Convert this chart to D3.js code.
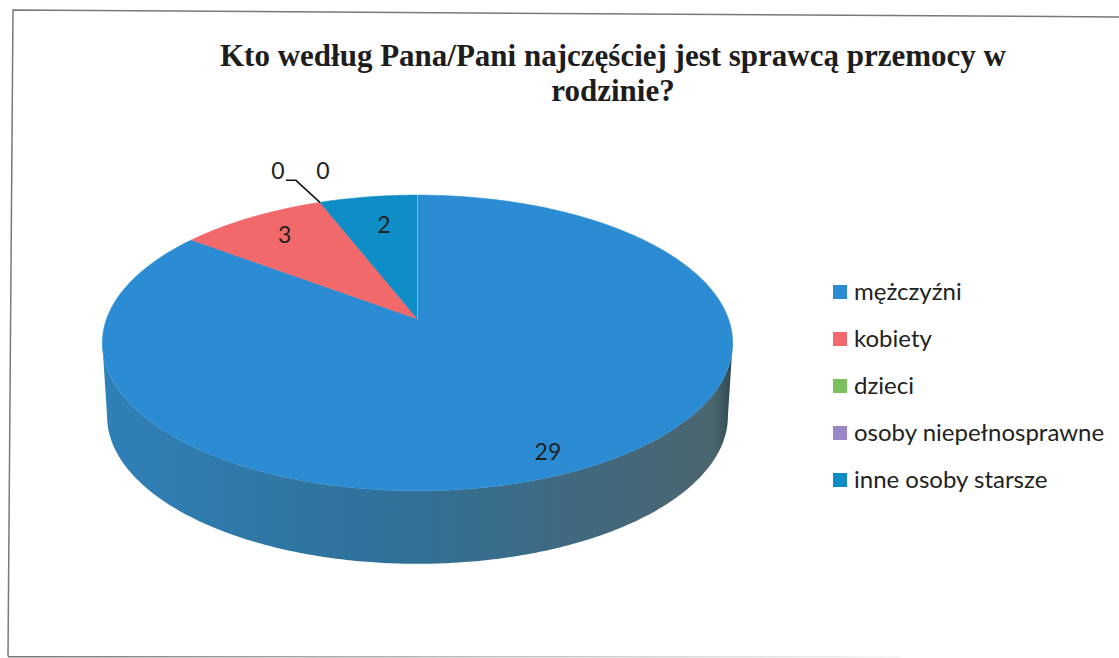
<!DOCTYPE html>
<html>
<head>
<meta charset="utf-8">
<script src="https://cdn.jsdelivr.net/npm/d3@7"></script>
<style>
  html, body { margin: 0; padding: 0; background: #fff; }
  svg { display: block; }
</style>
</head>
<body>
<div id="chart"></div>
<script>
// Donnees
const categories = ["mężczyźni", "kobiety", "dzieci", "osoby niepełnosprawne", "inne osoby starsze"];
const values = [29, 3, 0, 0, 2];
const colors = ["#2b8cd3", "#f2696b", "#7cc05c", "#9b86c8", "#0f8dc6"];
const titleLines = ["Kto według Pana/Pani najczęściej jest sprawcą przemocy w", "rodzinie?"];

const width = 1119, height = 658;

const svg = d3.select("#chart").append("svg")
  .attr("width", width)
  .attr("height", height);

// Cadre (scan legerement de travers, le bas s'efface vers la droite)
svg.append("path")
  .attr("d", "M8,656.5L13,10L1119,17")
  .attr("fill", "none")
  .attr("stroke", "#77797b")
  .attr("stroke-width", 1.5);
const frameGrad = svg.append("defs").append("linearGradient")
  .attr("id", "frameBottom")
  .attr("gradientUnits", "userSpaceOnUse")
  .attr("x1", 8).attr("x2", 900).attr("y1", 0).attr("y2", 0);
frameGrad.append("stop").attr("offset", "0").attr("stop-color", "#77797b");
frameGrad.append("stop").attr("offset", "0.35").attr("stop-color", "#a5a7a9");
frameGrad.append("stop").attr("offset", "1").attr("stop-color", "#f4f4f4");
svg.append("rect")
  .attr("x", 8).attr("y", 656)
  .attr("width", 892).attr("height", 1.5)
  .attr("fill", "url(#frameBottom)");

// Titre
svg.append("g").selectAll("text")
  .data(titleLines)
  .enter()
  .append("text")
  .attr("x", 613)
  .attr("y", (d, i) => 66 + i * 35)
  .attr("text-anchor", "middle")
  .style("font-family", "'Liberation Serif', serif")
  .style("font-weight", "bold")
  .style("font-size", "31px")
  .style("fill", "#1d1d1d")
  .text(d => d);

// Projection perspective du disque : le centre du camembert n'est pas au centre de l'ellipse
const cx = 417.5, apexY = 319, depth = 73;
const p = 0.162, A = 311, H = 144;
const project = (a, r = 1) => {
  const u = r * Math.sin(a), v = r * Math.cos(a);
  const w = 1 + p * v;
  return [cx + A * u / w, apexY - H * v / w];
};
const arcPoints = (a0, a1) => {
  const n = Math.max(2, Math.ceil(Math.abs(a1 - a0) / 0.01));
  return d3.range(n + 1).map(i => project(a0 + (a1 - a0) * i / n));
};

const pie = d3.pie().sort(null).value(d => d);
const slices = pie(values);
const line = d3.line();

const defs = svg.append("defs");
const wallGrad = defs.append("linearGradient")
  .attr("id", "wall")
  .attr("x1", "0").attr("x2", "1").attr("y1", "0").attr("y2", "0");
wallGrad.append("stop").attr("offset", "0").attr("stop-color", "#2f80b8");
wallGrad.append("stop").attr("offset", "0.45").attr("stop-color", "#2f7199");
wallGrad.append("stop").attr("offset", "0.8").attr("stop-color", "#43687c");
wallGrad.append("stop").attr("offset", "0.97").attr("stop-color", "#4b666f");
wallGrad.append("stop").attr("offset", "1").attr("stop-color", "#2f4650");

// Paroi du disque : du point tangent droit au point tangent gauche
const tangent = Math.acos(-p);
const topEdge = arcPoints(tangent, 2 * Math.PI - tangent);
const bottomEdge = topEdge.slice().reverse().map(([x, y]) => [cx + (x - cx) * 0.985, y + depth]);
svg.append("path")
  .attr("d", line(topEdge.concat(bottomEdge)) + "Z")
  .attr("fill", "url(#wall)");

// Dessus du camembert
svg.append("g").selectAll("path")
  .data(slices.filter(d => d.value > 0))
  .enter()
  .append("path")
  .attr("d", d => line([project(0, 0), ...arcPoints(d.startAngle, d.endAngle)]) + "Z")
  .attr("fill", d => colors[d.index])
  .attr("stroke", d => colors[d.index])
  .attr("stroke-width", 0.5);

// Liseré clair entre la premiere et la derniere part
svg.append("path")
  .attr("d", line([project(0, 0), project(0)]))
  .attr("stroke", "#7fb8e0")
  .attr("stroke-width", 1);

// Etiquettes : part, rayon relatif, decalage
const labelSpec = [
  { r: 0.8, dx: 5, dy: 16 },
  { r: 0.8, dx: 3, dy: -1 },
  { r: 1, dx: -42, dy: -31 },
  { r: 1, dx: 3, dy: -31 },
  { r: 0.8, dx: 7, dy: 6 }
];
const labelAt = d => {
  const s = labelSpec[d.index];
  const [x, y] = project((d.startAngle + d.endAngle) / 2, s.r);
  return [x + s.dx, y + s.dy];
};
svg.append("g").selectAll("text")
  .data(slices)
  .enter()
  .append("text")
  .attr("x", d => labelAt(d)[0])
  .attr("y", d => labelAt(d)[1])
  .attr("dy", "0.35em")
  .attr("text-anchor", "middle")
  .style("font-family", "Lato, 'Open Sans', sans-serif")
  .style("font-size", "23px")
  .style("fill", "#222")
  .text(d => d.value);

// Trait de rappel des zeros
const rim = project(slices[2].startAngle);
svg.append("path")
  .attr("d", line([rim, [rim[0] - 24, rim[1] - 22], [rim[0] - 34, rim[1] - 22]]))
  .attr("fill", "none")
  .attr("stroke", "#111")
  .attr("stroke-width", 1.5);

// Legende
const legendY = d3.scalePoint()
  .domain(categories)
  .range([292, 480]);
const legend = svg.append("g").selectAll("g")
  .data(categories)
  .enter()
  .append("g")
  .attr("transform", d => `translate(833,${legendY(d)})`);
legend.append("rect")
  .attr("x", 0)
  .attr("y", -7)
  .attr("width", 14)
  .attr("height", 14)
  .attr("fill", (d, i) => colors[i]);
legend.append("text")
  .attr("x", 21)
  .attr("dy", "0.33em")
  .style("font-family", "Lato, 'Open Sans', sans-serif")
  .style("font-size", "24px")
  .style("fill", "#222")
  .text(d => d);
</script>
</body>
</html>
